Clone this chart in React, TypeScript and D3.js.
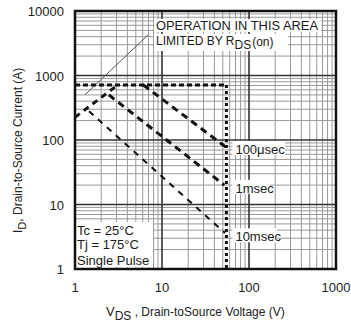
import React from "react";
import * as d3 from "d3";

const W = 351;
const H = 328;

// Axis ticks
const xTicks = [1, 10, 100, 1000];
const yTicks = [1, 10, 100, 1000, 10000];

// Boundary lines (V, A)
const rdsV = [1, 3.1];
const rdsI = [225, 713];
const pkgV = [1, 55];
const pkgI = [713, 713];
const dcV = [55, 55];
const dcI = [713, 1];

// Pulse curves
const us100V = [6.1, 54];
const us100I = [713, 78];
const ms1V = [2.45, 52];
const ms1I = [500, 20];
const ms10V = [1.45, 53];
const ms10I = [280, 3.6];

const curveLabels = ["100\u03bcsec", "1msec", "10msec"];
const labelI = [70, 17.5, 3.1];

// Leader line from the annotation to the RDS(on) limit
const leaderV = [1.3, 6.9];
const leaderI = [500, 4250];

const conditions = ["Tc = 25\u00b0C", "Tj = 175\u00b0C", "Single Pulse"];

const FONT = "'Liberation Sans', Arial, Helvetica, sans-serif";

export default function App() {
  const x = d3.scaleLog().domain([1, 1000]).range([75, 336]);
  const y = d3.scaleLog().domain([1, 10000]).range([269, 11]);

  const line = d3
    .line<[number, number]>()
    .x((d) => x(d[0]))
    .y((d) => y(d[1]));
  const pts = (vs: number[], is: number[]) =>
    vs.map((v, i) => [v, is[i]] as [number, number]);

  const minorX: number[] = [];
  for (let dec = 1; dec < 1000; dec *= 10)
    for (let k = 2; k <= 9; k++) minorX.push(dec * k);
  const minorY: number[] = [];
  for (let dec = 1; dec < 10000; dec *= 10)
    for (let k = 2; k <= 9; k++) minorY.push(dec * k);

  const [x0, x1] = x.range();
  const [y0, y1] = y.range();

  return (
    <svg
      width={W}
      height={H}
      style={{ position: "absolute", left: 0, top: 0, background: "#fff" }}
      fontFamily={FONT}
    >
      <rect x={0} y={0} width={W} height={H} fill="#fff" />
      {/* grid */}
      <g>
        {minorX.map((v) => (
          <line key={"mx" + v} x1={x(v)} x2={x(v)} y1={y1} y2={y0} stroke="#999" strokeWidth={1} />
        ))}
        {minorY.map((v) => (
          <line key={"my" + v} x1={x0} x2={x1} y1={y(v)} y2={y(v)} stroke="#999" strokeWidth={1} />
        ))}
        {xTicks.map((v) => (
          <line key={"Mx" + v} x1={x(v)} x2={x(v)} y1={y1} y2={y0} stroke="#333" strokeWidth={1.6} />
        ))}
        {yTicks.map((v) => (
          <line key={"My" + v} x1={x0} x2={x1} y1={y(v)} y2={y(v)} stroke="#333" strokeWidth={1.6} />
        ))}
      </g>

      {/* annotation */}
      <rect x={154} y={19} width={167} height={13} fill="#fff" />
      <rect x={154} y={34} width={134} height={17} fill="#fff" />
      <text x={156} y={30} fontSize={12} textLength={162} lengthAdjust="spacingAndGlyphs" fill="#1a1a1a">
        OPERATION IN THIS AREA
      </text>
      <text x={156} y={45} fontSize={12} fill="#1a1a1a">
        LIMITED BY R
        <tspan dy={4}>DS</tspan>
        <tspan dy={-3} dx={1}>(on)</tspan>
      </text>
      <path d={line(pts(leaderV, leaderI)) || ""} fill="none" stroke="#555" strokeWidth={1} />

      {/* conditions */}
      <rect x={76} y={222} width={77} height={45} fill="#fff" />
      {conditions.map((c, i) => (
        <text key={c} x={77} y={235 + i * 14 + (i === 2 ? 2 : 0)} fontSize={13} fill="#1a1a1a">
          {c}
        </text>
      ))}

      {/* curve labels */}
      {curveLabels.map((c, i) => (
        <g key={c}>
          <rect x={x(55) + 6} y={y(labelI[i]) - 9} width={c.length * 7.5} height={14} fill="#fff" />
          <text x={x(55) + 9} y={y(labelI[i]) + 4} fontSize={13} fill="#1a1a1a">
            {c}
          </text>
        </g>
      ))}

      {/* boundaries */}
      <path d={line(pts(pkgV, pkgI)) || ""} fill="none" stroke="#111" strokeWidth={3} strokeDasharray="5,3" />
      <path d={line(pts(dcV, dcI)) || ""} fill="none" stroke="#111" strokeWidth={3} strokeDasharray="3,3" />
      <path d={line(pts(rdsV, rdsI)) || ""} fill="none" stroke="#111" strokeWidth={3} strokeDasharray="6,5" />

      {/* pulse curves */}
      <path d={line(pts(us100V, us100I)) || ""} fill="none" stroke="#111" strokeWidth={3} strokeDasharray="7,5" />
      <path d={line(pts(ms1V, ms1I)) || ""} fill="none" stroke="#111" strokeWidth={3} strokeDasharray="7,5" />
      <path d={line(pts(ms10V, ms10I)) || ""} fill="none" stroke="#111" strokeWidth={2} strokeDasharray="6,6" />

      {/* frame */}
      <rect x={x0} y={y1} width={x1 - x0} height={y0 - y1} fill="none" stroke="#111" strokeWidth={2.5} />

      {/* tick labels */}
      {yTicks.map((v) => (
        <text key={"yl" + v} x={64} y={y(v) + 5} fontSize={13} textAnchor="end" fill="#222">
          {v}
        </text>
      ))}
      {xTicks.map((v) => (
        <text key={"xl" + v} x={x(v)} y={292} fontSize={13} textAnchor="middle" fill="#222">
          {v}
        </text>
      ))}

      {/* axis titles */}
      <text x={106} y={316} fontSize={13} fill="#222">
        V<tspan dy={4} fontSize={12}>DS</tspan>
        <tspan dy={-4} fontSize={12}>{"  , Drain-toSource Voltage (V)"}</tspan>
      </text>
      <text transform="translate(22,233) rotate(-90)" fontSize={12} fill="#222">
        I<tspan dy={4} fontSize={11}>D</tspan>
        <tspan dy={-4}>, Drain-to-Source Current (A)</tspan>
      </text>
    </svg>
  );
}
